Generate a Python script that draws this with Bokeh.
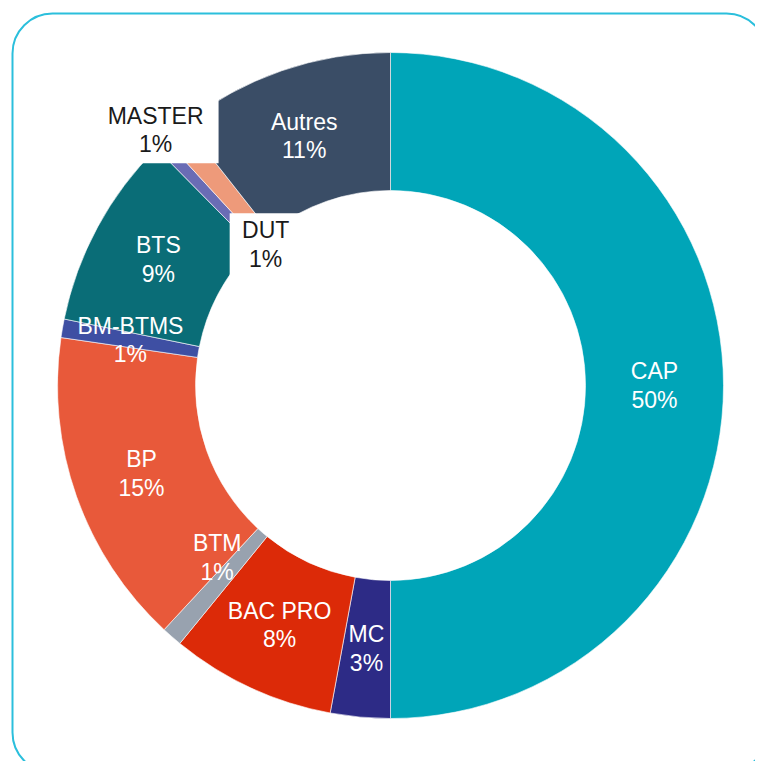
import math
from bokeh.plotting import figure
from bokeh.models import Range1d, ColumnDataSource
from bokeh.core.properties import value
from bokeh.embed import file_html
from bokeh.resources import INLINE

# ---- data (clockwise from 12 o'clock) ----
categories = ["CAP", "MC", "BAC PRO", "BTM", "BP", "BM-BTMS", "BTS", "MASTER", "DUT", "Autres"]
shares = [50.0, 2.9, 8.0, 1.0, 15.4, 0.9, 9.4, 0.6, 1.2, 10.6]
colors = ["#00A5B8", "#2D2B86", "#DC2A08", "#98A2AF", "#E8593A",
          "#3E4FA3", "#0A6D77", "#6A6CB5", "#EE9A7A", "#3A4D66"]

# ---- layout / style ----
W, H = 755, 761
IMG_H = 769
CX, CY = 390, 384
R_IN, R_OUT = 195, 333
R_LABEL = (R_IN + R_OUT) / 2
FONT = "Liberation Sans"
FS = "23px"
LINE_GAP = 14.3
# labels moved away from their slice (dx, dy in px), and boxed labels
nudge = {"BTM": (0, 27), "MASTER": (-53, 64), "DUT": (46, -60)}
boxed = {"MASTER": (126, 66), "DUT": (72, 62)}
dark_text = {"MASTER", "DUT"}

total = sum(shares)
start, end, lx, ly, pct, tcol = [], [], [], [], [], []
acc = 0.0
for cat, v in zip(categories, shares):
    t0 = acc / total * 2 * math.pi
    acc += v
    t1 = acc / total * 2 * math.pi
    start.append(math.pi / 2 - t0)
    end.append(math.pi / 2 - t1)
    tm = (t0 + t1) / 2
    dx, dy = nudge.get(cat, (0, 0))
    lx.append(CX + R_LABEL * math.sin(tm) + dx)
    ly.append(CY + R_LABEL * math.cos(tm) + dy)
    pct.append(f"{round(v / total * 100)}%")
    tcol.append("#1a1a1a" if cat in dark_text else "white")

src = ColumnDataSource(dict(cat=categories, start=start, end=end, color=colors,
                            lx=lx, ly=ly, pct=pct, tcol=tcol,
                            ly1=[y + LINE_GAP for y in ly],
                            ly2=[y - LINE_GAP for y in ly]))

p = figure(width=W, height=H, x_range=Range1d(0, W), y_range=Range1d(IMG_H - H, IMG_H),
           output_backend="svg", toolbar_location=None, min_border=0,
           x_axis_location=None, y_axis_location=None)
p.grid.visible = False
p.outline_line_color = None
p.background_fill_color = "white"
p.border_fill_color = "white"

# rounded frame
p.quad(left=12, right=766, top=756, bottom=-3, fill_color=None,
       line_color="#2BBFDC", line_width=2, border_radius=40)

p.annular_wedge(x=CX, y=CY, inner_radius=R_IN, outer_radius=R_OUT,
                start_angle="start", end_angle="end", direction="clock",
                fill_color="color", line_color="white", line_width=0.6, source=src)

# white boxes behind outside labels
bl, br, bt, bb = [], [], [], []
for cat, x, y in zip(categories, lx, ly):
    if cat in boxed:
        w, h = boxed[cat]
        bl.append(x - w / 2); br.append(x + w / 2)
        bt.append(y + h / 2); bb.append(y - h / 2)
p.quad(left=bl, right=br, top=bt, bottom=bb, fill_color="white", line_color=None)

p.text(x="lx", y="ly1", text="cat", source=src, text_color="tcol",
       text_font=value(FONT), text_font_size=FS, text_align="center", text_baseline="middle")
p.text(x="lx", y="ly2", text="pct", source=src, text_color="tcol",
       text_font=value(FONT), text_font_size=FS, text_align="center", text_baseline="middle")

open("out.html", "w").write(file_html(p, INLINE))
